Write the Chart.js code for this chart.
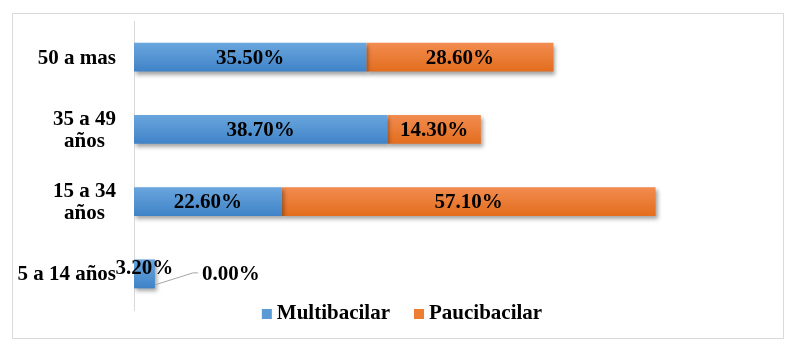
<!DOCTYPE html>
<html>
<head>
<meta charset="utf-8">
<script src="https://cdn.jsdelivr.net/npm/chart.js@4"></script>
<style>
  html, body { margin: 0; padding: 0; background: #ffffff; }
  #wrap { position: relative; width: 800px; height: 356px; }
  #frame { position: absolute; left: 12px; top: 13px; width: 772px; height: 326px; border: 1px solid #d9d9d9; box-sizing: border-box; pointer-events: none; }
  canvas { position: absolute; left: 0; top: 0; }
</style>
</head>
<body>
<div id="wrap">
  <canvas id="c" width="800" height="356"></canvas>
  <div id="frame"></div>
</div>
<script>
const categories = [["50 a mas"], ["35 a 49", "años"], ["15 a 34", "años"], ["5 a 14 años"]];
const seriesNames = ["Multibacilar", "Paucibacilar"];
const multibacilar = [35.5, 38.7, 22.6, 3.2];
const paucibacilar = [28.6, 14.3, 57.1, 0.0];

const FONT = 'bold 21px "Liberation Serif", "Times New Roman", serif';
const gradStops = [['#6aa6de', '#3f83c7'], ['#f28c50', '#e36d1d']];

const shadowPlugin = {
  id: 'shadow',
  beforeDatasetsDraw(chart) {
    const c = chart.ctx;
    chart.data.datasets.forEach((ds, di) => {
      chart.getDatasetMeta(di).data.forEach(el => {
        if (!Number.isFinite(el.y) || !Number.isFinite(el.height)) return;
        const g = c.createLinearGradient(0, el.y - el.height / 2, 0, el.y + el.height / 2);
        g.addColorStop(0, gradStops[di][0]);
        g.addColorStop(1, gradStops[di][1]);
        el.options.backgroundColor = g;
      });
    });
    c.save();
    c.shadowColor = 'rgba(0,0,0,0.35)';
    c.shadowBlur = 4;
    c.shadowOffsetX = 2;
    c.shadowOffsetY = 3;
  },
  afterDatasetsDraw(chart) {
    chart.ctx.restore();
  }
};

const labelPlugin = {
  id: 'labels',
  afterDraw(chart) {
    const c = chart.ctx;
    c.save();
    c.font = FONT;
    c.fillStyle = '#000000';
    c.textBaseline = 'middle';
    c.textAlign = 'center';
    chart.data.datasets.forEach((ds, di) => {
      const meta = chart.getDatasetMeta(di);
      meta.data.forEach((bar, i) => {
        const v = ds.data[i];
        const txt = v.toFixed(2) + '%';
        const left = Math.min(bar.x, bar.base);
        const right = Math.max(bar.x, bar.base);
        if (v === 0) {
          const prev = chart.getDatasetMeta(0).data[i];
          const sx = prev.x, sy = bar.y + 11;
          const lx = sx + 43;
          c.strokeStyle = '#a6a6a6';
          c.lineWidth = 1;
          c.beginPath();
          c.moveTo(sx, sy);
          c.lineTo(lx - 5, bar.y - 1);
          c.lineTo(lx, bar.y - 1);
          c.stroke();
          c.textAlign = 'left';
          c.fillText(txt, lx + 4, bar.y + 1);
          c.textAlign = 'center';
        } else if (right - left < 40) {
          c.fillText(txt, (left + right) / 2, bar.y - 5);
        } else {
          c.fillText(txt, (left + right) / 2, bar.y + 1);
        }
      });
    });
    const ys = chart.scales.y;
    categories.forEach((lines, i) => {
      const cy = ys.getPixelForValue(i);
      const widths = lines.map(l => c.measureText(l).width);
      const bw = Math.max(...widths);
      const rightEdge = 116;
      const cx = rightEdge - bw / 2;
      const lh = 22;
      const y0 = cy - (lines.length - 1) * lh / 2;
      lines.forEach((l, k) => c.fillText(l, cx, y0 + k * lh + 1));
    });
    const items = chart.data.datasets.map(d => ({ text: d.label, color: d.legendColor }));
    const box = 10, gapBox = 5, gapItem = 24;
    const ws = items.map(it => box + gapBox + c.measureText(it.text).width);
    const total = ws.reduce((a, b) => a + b, 0) + gapItem * (items.length - 1);
    let x = 402 - total / 2;
    const ly = 314;
    c.textAlign = 'left';
    items.forEach((it, k) => {
      c.fillStyle = it.color;
      c.fillRect(x, ly - 5, box, box);
      c.fillStyle = '#000000';
      c.fillText(it.text, x + box + gapBox, ly);
      x += ws[k] + gapItem;
    });
    c.restore();
  }
};

new Chart(document.getElementById('c'), {
  type: 'bar',
  data: {
    labels: categories,
    datasets: [
      {
        label: seriesNames[0],
        data: multibacilar,
        legendColor: '#5b9bd5',
        backgroundColor: (ctx) => '#5597d6',
        borderWidth: 0,
        barPercentage: 0.4,
        categoryPercentage: 1.0
      },
      {
        label: seriesNames[1],
        data: paucibacilar,
        legendColor: '#ed7d31',
        backgroundColor: (ctx) => '#ec7c36',
        borderWidth: 0,
        barPercentage: 0.4,
        categoryPercentage: 1.0
      }
    ]
  },
  options: {
    indexAxis: 'y',
    responsive: false,
    animation: false,
    devicePixelRatio: 1,
    layout: { padding: { left: 0, right: 77, top: 21, bottom: 46 } },
    plugins: {
      legend: { display: false },
      tooltip: { enabled: false }
    },
    scales: {
      x: {
        stacked: true,
        min: 0,
        max: 90,
        display: false
      },
      y: {
        stacked: true,
        grid: { display: false, drawTicks: false },
        border: { display: true, color: '#d9d9d9', width: 1 },
        ticks: { display: false },
        afterFit(scale) { scale.width = 134; }
      }
    }
  },
  plugins: [shadowPlugin, labelPlugin]
});
</script>
</body>
</html>
